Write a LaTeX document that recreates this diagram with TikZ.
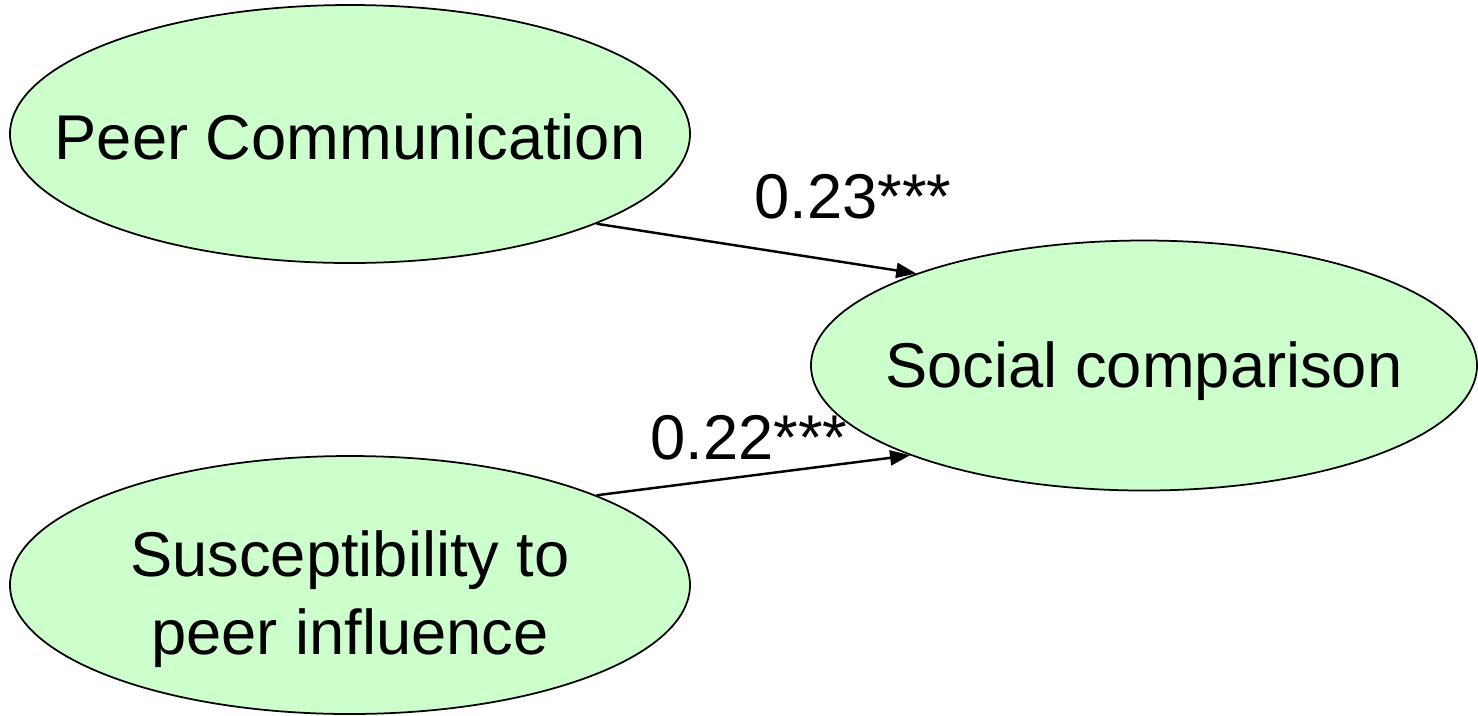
\documentclass[tikz,border=0pt]{standalone}
\usepackage{fontspec}
\setmainfont{Liberation Sans}
\usetikzlibrary{shapes.geometric, arrows.meta}
\definecolor{paleGreen}{HTML}{CCFFCC}
\begin{document}
\begin{tikzpicture}[font=\fontsize{18}{22}\selectfont,
        latent/.style={ellipse, draw, fill=paleGreen, line width=0.5pt, inner sep=0pt,
            minimum width=6.8cm, minimum height=2.58cm},
        path/.style={line width=0.7pt, -{Triangle[length=0.2cm, width=0.15cm]}}]
        \useasboundingbox (0, 0) rectangle (14.78, -7.15);

        \node[anchor=base] (coefA) at (8.53, -2.18) {0.23***};
        \node[anchor=base] (coefB) at (7.49, -4.59) {0.22***};

        \node[latent] (peer) at (3.5, -1.34) {};
        \node[latent] (susc) at (3.5, -5.85) {};
        \node[latent, minimum width=6.66cm, minimum height=2.5cm] (soc) at (11.44, -3.655) {};

        \node (peerText) at ([yshift=-0.03cm]peer.center) {Peer Communication};
        \node[align=center] (suscText) at ([yshift=-0.14cm]susc.center) {Susceptibility to\\peer influence};
        \node (socText) at ([yshift=-0.06cm]soc.center) {Social comparison};

        \draw[path] (peer.-20.5) -- (soc.158.9);
        \draw[path] (susc.20) -- (soc.201);
    \end{tikzpicture}
\end{document}
